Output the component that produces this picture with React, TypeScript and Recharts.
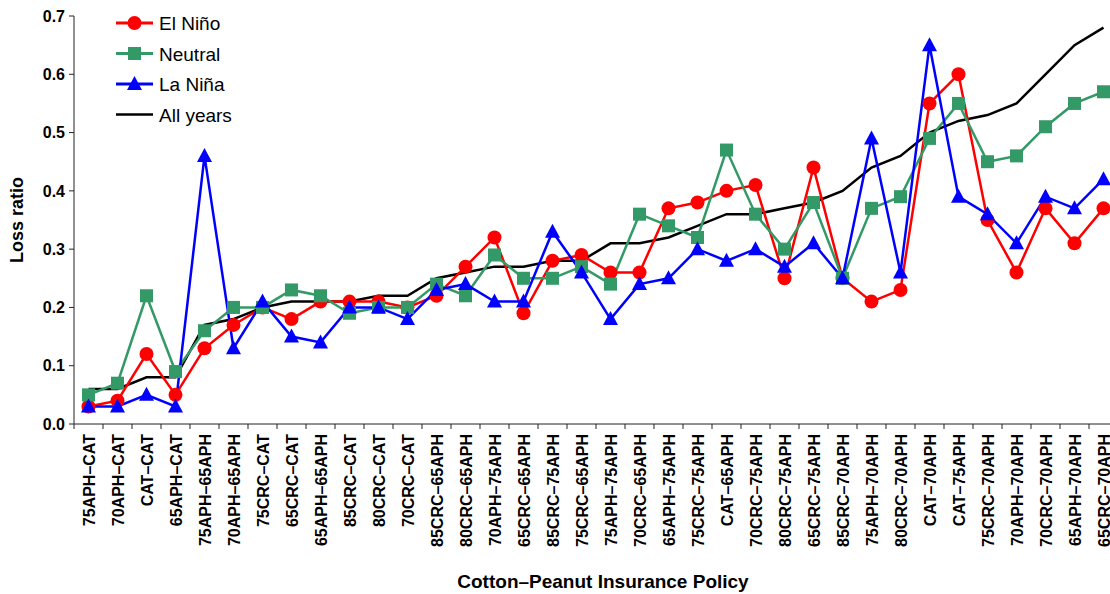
import React from 'react';
import { LineChart, Line, XAxis, YAxis } from 'recharts';

const policies = [
  '75APH–CAT', '70APH–CAT', 'CAT–CAT', '65APH–CAT', '75APH–65APH', '70APH–65APH',
  '75CRC–CAT', '65CRC–CAT', '65APH–65APH', '85CRC–CAT', '80CRC–CAT', '70CRC–CAT',
  '85CRC–65APH', '80CRC–65APH', '70APH–75APH', '65CRC–65APH', '85CRC–75APH', '75CRC–65APH',
  '75APH–75APH', '70CRC–65APH', '65APH–75APH', '75CRC–75APH', 'CAT–65APH', '70CRC–75APH',
  '80CRC–75APH', '65CRC–75APH', '85CRC–70APH', '75APH–70APH', '80CRC–70APH', 'CAT–70APH',
  'CAT–75APH', '75CRC–70APH', '70APH–70APH', '70CRC–70APH', '65APH–70APH', '65CRC–70APH',
];

const elNino = [
  0.03, 0.04, 0.12, 0.05, 0.13, 0.17, 0.2, 0.18, 0.21, 0.21, 0.21, 0.2,
  0.22, 0.27, 0.32, 0.19, 0.28, 0.29, 0.26, 0.26, 0.37, 0.38, 0.4, 0.41,
  0.25, 0.44, 0.25, 0.21, 0.23, 0.55, 0.6, 0.35, 0.26, 0.37, 0.31, 0.37,
];

const neutral = [
  0.05, 0.07, 0.22, 0.09, 0.16, 0.2, 0.2, 0.23, 0.22, 0.19, 0.2, 0.2,
  0.24, 0.22, 0.29, 0.25, 0.25, 0.27, 0.24, 0.36, 0.34, 0.32, 0.47, 0.36,
  0.3, 0.38, 0.25, 0.37, 0.39, 0.49, 0.55, 0.45, 0.46, 0.51, 0.55, 0.57,
];

const laNina = [
  0.03, 0.03, 0.05, 0.03, 0.46, 0.13, 0.21, 0.15, 0.14, 0.2, 0.2, 0.18,
  0.23, 0.24, 0.21, 0.21, 0.33, 0.26, 0.18, 0.24, 0.25, 0.3, 0.28, 0.3,
  0.27, 0.31, 0.25, 0.49, 0.26, 0.65, 0.39, 0.36, 0.31, 0.39, 0.37, 0.42,
];

const allYears = [
  0.06, 0.06, 0.08, 0.08, 0.17, 0.18, 0.2, 0.21, 0.21, 0.21, 0.22, 0.22,
  0.25, 0.26, 0.27, 0.27, 0.28, 0.28, 0.31, 0.31, 0.32, 0.34, 0.36, 0.36,
  0.37, 0.38, 0.4, 0.44, 0.46, 0.5, 0.52, 0.53, 0.55, 0.6, 0.65, 0.68,
];

const yTicks = [0, 0.1, 0.2, 0.3, 0.4, 0.5, 0.6, 0.7];

const data = policies.map((name, i) => ({
  name,
  elNino: elNino[i],
  neutral: neutral[i],
  laNina: laNina[i],
  allYears: allYears[i],
}));

const RED = '#ff0000';
const GREEN = '#339966';
const BLUE = '#0000ff';
const FONT = 'Arial, "Liberation Sans", Helvetica, sans-serif';
const BAND = 29;

const CircleDot = (props: any) => {
  const { cx, cy } = props;
  if (cx == null || cy == null) return null;
  return <circle cx={cx} cy={cy} r={7} fill={RED} />;
};

const SquareDot = (props: any) => {
  const { cx, cy } = props;
  if (cx == null || cy == null) return null;
  return <rect x={cx - 6.5} y={cy - 6.5} width={13} height={13} fill={GREEN} />;
};

const TriangleDot = (props: any) => {
  const { cx, cy } = props;
  if (cx == null || cy == null) return null;
  return <polygon points={`${cx},${cy - 8} ${cx - 7.5},${cy + 6} ${cx + 7.5},${cy + 6}`} fill={BLUE} />;
};

const PolicyTick = (props: any) => {
  const { x, y, payload } = props;
  const tx = x + 6;
  const ty = y + 10;
  return (
    <g>
      <line x1={x - BAND / 2} y1={y} x2={x - BAND / 2} y2={y + 5} stroke="#222" strokeWidth={1} />
      <text
        x={tx}
        y={ty}
        transform={`rotate(-90, ${tx}, ${ty})`}
        textAnchor="end"
        fontFamily={FONT}
        fontWeight="bold"
        fontSize={16}
        fill="#000"
      >
        {payload.value}
      </text>
    </g>
  );
};

const legendItems = [
  { label: 'El Niño', color: RED, marker: 'circle' },
  { label: 'Neutral', color: GREEN, marker: 'square' },
  { label: 'La Niña', color: BLUE, marker: 'triangle' },
  { label: 'All years', color: '#000', marker: 'none' },
];

const ChartLegend = () => (
  <svg
    width={170}
    height={125}
    style={{ position: 'absolute', left: 116, top: 8, overflow: 'visible' }}
  >
    {legendItems.map((item, i) => {
      const cy = 15 + i * 30.5;
      return (
        <g key={item.label}>
          <line x1={0} y1={cy} x2={37} y2={cy} stroke={item.color} strokeWidth={item.marker === 'none' ? 2.5 : 3} />
          {item.marker === 'circle' && <circle cx={18.5} cy={cy} r={7} fill={item.color} />}
          {item.marker === 'square' && <rect x={12} y={cy - 6.5} width={13} height={13} fill={item.color} />}
          {item.marker === 'triangle' && (
            <polygon points={`18.5,${cy - 8} 11,${cy + 6} 26,${cy + 6}`} fill={item.color} />
          )}
          <text x={43} y={cy + 7} fontFamily={FONT} fontSize={19} fill="#000">
            {item.label}
          </text>
        </g>
      );
    })}
  </svg>
);

export default function App() {
  return (
    <div
      style={{
        position: 'fixed',
        left: 0,
        top: 0,
        width: 1110,
        height: 594,
        overflow: 'hidden',
        background: '#fff',
      }}
    >
      <LineChart
        width={1130}
        height={594}
        data={data}
        margin={{ top: 16, right: 12, bottom: 0, left: 0 }}
      >
        <XAxis
          dataKey="name"
          interval={0}
          height={170}
          tickSize={0}
          tickMargin={0}
          tickLine={false}
          padding={{ left: BAND / 2, right: BAND / 2 }}
          tick={<PolicyTick />}
          stroke="#222"
          label={{
            value: 'Cotton–Peanut Insurance Policy',
            position: 'insideBottom',
            offset: 6,
            dx: 7,
            fontFamily: FONT,
            fontWeight: 'bold',
            fontSize: 19,
            fill: '#000',
          }}
        />
        <YAxis
          width={74}
          domain={[0, 0.7]}
          ticks={yTicks}
          interval={0}
          tickSize={5}
          tickMargin={4}
          stroke="#222"
          tickFormatter={(v: number) => v.toFixed(1)}
          tick={{ fontFamily: FONT, fontWeight: 'bold', fontSize: 16, fill: '#000' }}
          label={{
            value: 'Loss ratio',
            angle: -90,
            position: 'center',
            dx: -20,
            fontFamily: FONT,
            fontWeight: 'bold',
            fontSize: 18,
            fill: '#000',
          }}
        />
        <Line
          dataKey="allYears"
          stroke="#000"
          strokeWidth={2.5}
          dot={false}
          activeDot={false}
          isAnimationActive={false}
        />
        <Line
          dataKey="elNino"
          stroke={RED}
          strokeWidth={2.5}
          dot={<CircleDot />}
          activeDot={false}
          isAnimationActive={false}
        />
        <Line
          dataKey="neutral"
          stroke={GREEN}
          strokeWidth={2.5}
          dot={<SquareDot />}
          activeDot={false}
          isAnimationActive={false}
        />
        <Line
          dataKey="laNina"
          stroke={BLUE}
          strokeWidth={2.5}
          dot={<TriangleDot />}
          activeDot={false}
          isAnimationActive={false}
        />
      </LineChart>
      <ChartLegend />
    </div>
  );
}
